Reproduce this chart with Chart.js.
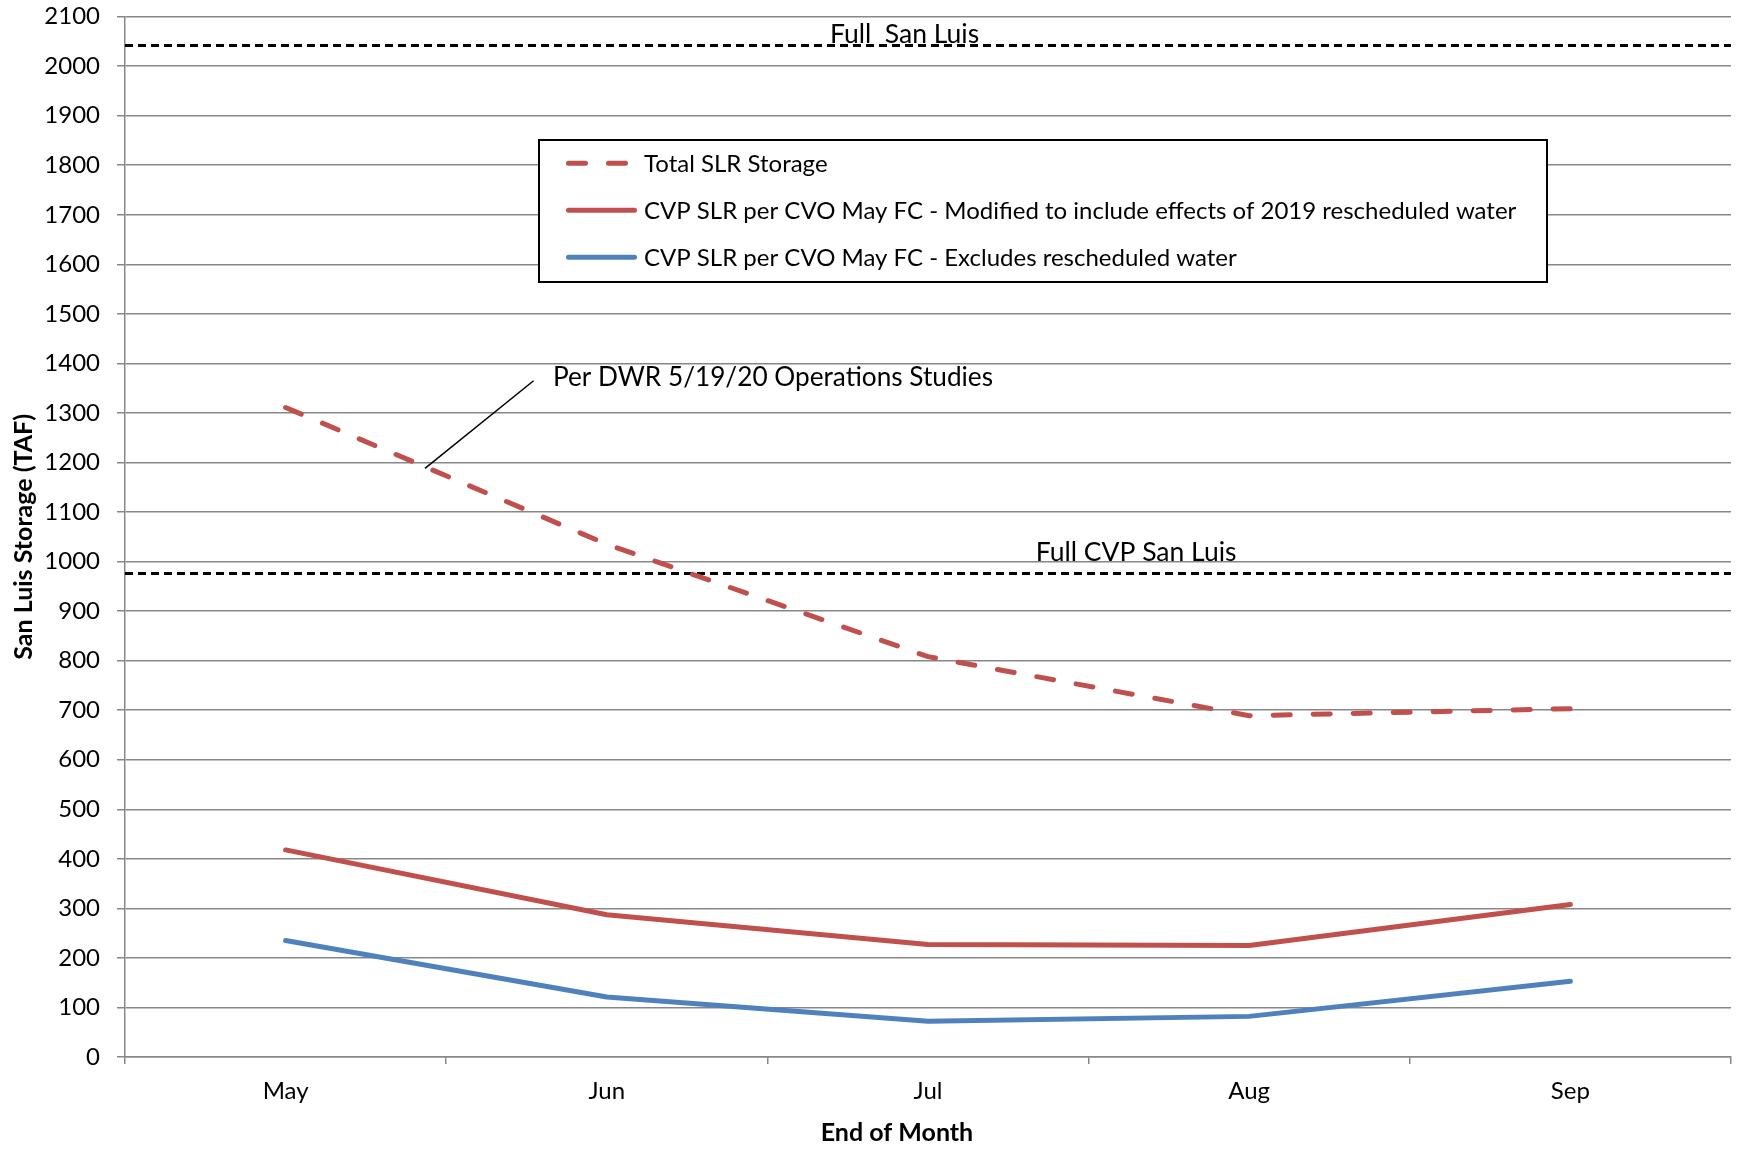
<!DOCTYPE html>
<html>
<head>
<meta charset="utf-8">
<script src="https://cdn.jsdelivr.net/npm/chart.js@4.4.0/dist/chart.umd.min.js"></script>
<style>
html,body{margin:0;padding:0;background:#ffffff;}
canvas{display:block;}
</style>
</head>
<body>
<canvas id="chart" width="1740" height="1149"></canvas>
<script>
// ---------- data ----------
const months = ['May', 'Jun', 'Jul', 'Aug', 'Sep'];
const totalSLRStorage = [1311, 1035, 808, 689, 703];
const cvpModified = [418, 287, 227, 225, 308];
const cvpExcludes = [235, 121, 72, 82, 153];
const seriesNames = [
  'Total SLR Storage',
  'CVP SLR per CVO May FC - Modified to include effects of 2019 rescheduled water',
  'CVP SLR per CVO May FC - Excludes rescheduled water'
];
const referenceValues = [2043, 977];
const referenceLabels = ['Full  San Luis', 'Full CVP San Luis'];
const annotationText = 'Per DWR 5/19/20 Operations Studies';
const yAxisTitle = 'San Luis Storage (TAF)';
const xAxisTitle = 'End of Month';
const yMin = 0, yMax = 2100, yStep = 100;

// ---------- styling ----------
const FONT = 'Lato, "Open Sans", sans-serif';
const RED = '#C0504D';
const BLUE = '#4F81BD';
const GRID = '#878787';

// placement of the annotation texts (category index fraction / axis value)
const refLabelPos = [{xIdx: 1.927, dy: 1.6}, {xIdx: 2.648, dy: 11.7}];
const callout = {textIdx: 0.8325, textVal: 1355, fromIdx: 0.772, fromVal: 1365, toIdx: 0.434, toVal: 1188};

const overlayPlugin = {
  id: 'overlay',
  beforeDatasetsDraw(chart) {
    const {ctx, chartArea, scales: {x, y}} = chart;
    ctx.save();
    ctx.strokeStyle = '#000';
    ctx.lineWidth = 3;
    ctx.setLineDash([8, 5]);
    ctx.lineCap = 'butt';
    referenceValues.forEach(v => {
      const py = Math.round(y.getPixelForValue(v)) + 0.5;
      ctx.beginPath();
      ctx.moveTo(chartArea.left, py);
      ctx.lineTo(chartArea.right, py);
      ctx.stroke();
    });
    ctx.setLineDash([]);
    ctx.fillStyle = '#000';
    ctx.font = '26.5px ' + FONT;
    ctx.textAlign = 'center';
    ctx.textBaseline = 'alphabetic';
    referenceLabels.forEach((t, i) => {
      const py = y.getPixelForValue(referenceValues[i]);
      ctx.fillText(t, x.getPixelForValue(refLabelPos[i].xIdx), py - refLabelPos[i].dy);
    });
    // callout
    ctx.lineWidth = 1.5;
    ctx.beginPath();
    ctx.moveTo(x.getPixelForValue(callout.fromIdx), y.getPixelForValue(callout.fromVal));
    ctx.lineTo(x.getPixelForValue(callout.toIdx), y.getPixelForValue(callout.toVal));
    ctx.stroke();
    ctx.font = '26.2px ' + FONT;
    ctx.textAlign = 'left';
    ctx.fillText(annotationText, x.getPixelForValue(callout.textIdx), y.getPixelForValue(callout.textVal));
    ctx.restore();
  },
  afterDraw(chart) {
    const {ctx} = chart;
    ctx.save();
    // x-axis title (centred on the whole chart, as in the source)
    ctx.fillStyle = '#000';
    ctx.font = 'bold 25px ' + FONT;
    ctx.textAlign = 'center';
    ctx.textBaseline = 'alphabetic';
    ctx.fillText(xAxisTitle, chart.width * 0.5155, 1141);

    // legend box
    const bx0 = 539, by0 = 140, bx1 = 1547, by1 = 282;
    ctx.fillStyle = '#fff';
    ctx.fillRect(bx0, by0, bx1 - bx0, by1 - by0);
    ctx.strokeStyle = '#000';
    ctx.lineWidth = 2;
    ctx.strokeRect(bx0, by0, bx1 - bx0, by1 - by0);
    chart.data.datasets.forEach((ds, i) => {
      const ry = 163.3 + i * 47;
      ctx.strokeStyle = ds.borderColor;
      ctx.lineWidth = ds.borderWidth;
      ctx.lineCap = 'round';
      ctx.setLineDash(ds.borderDash || []);
      ctx.beginPath();
      ctx.moveTo(568.5, ry);
      ctx.lineTo(634.5, ry);
      ctx.stroke();
      ctx.setLineDash([]);
      ctx.fillStyle = '#000';
      ctx.font = '24px ' + FONT;
      ctx.textAlign = 'left';
      ctx.textBaseline = 'middle';
      ctx.fillText(ds.label, 644, ry + 1);
    });
    ctx.restore();
  }
};

new Chart(document.getElementById('chart'), {
  type: 'line',
  data: {
    labels: months,
    datasets: [
      {label: seriesNames[0], data: totalSLRStorage, borderColor: RED, backgroundColor: RED,
       borderWidth: 5, borderDash: [17, 23], borderCapStyle: 'round', pointRadius: 0, tension: 0, fill: false},
      {label: seriesNames[1], data: cvpModified, borderColor: RED, backgroundColor: RED,
       borderWidth: 5, borderCapStyle: 'round', borderJoinStyle: 'round', pointRadius: 0, tension: 0, fill: false},
      {label: seriesNames[2], data: cvpExcludes, borderColor: BLUE, backgroundColor: BLUE,
       borderWidth: 5, borderCapStyle: 'round', borderJoinStyle: 'round', pointRadius: 0, tension: 0, fill: false}
    ]
  },
  options: {
    responsive: false,
    animation: false,
    devicePixelRatio: 1,
    layout: {padding: {top: 16.6, right: 9, bottom: 0, left: 0}},
    plugins: {legend: {display: false}, tooltip: {enabled: false}},
    scales: {
      x: {
        offset: true,
        grid: {display: true, drawOnChartArea: false, drawTicks: true, tickLength: 7, color: GRID, lineWidth: 1.5, offset: true},
        border: {display: true, color: GRID, width: 1.5},
        ticks: {color: '#000', font: {family: FONT, size: 24}, padding: 13, maxRotation: 0},
        title: {display: false, text: xAxisTitle},
        afterFit(scale) { scale.height = 92; scale.paddingLeft = 0; scale.paddingRight = 0; }
      },
      y: {
        min: yMin, max: yMax,
        grid: {color: GRID, lineWidth: 1.5, drawTicks: true, tickLength: 8},
        border: {display: true, color: GRID, width: 1.5},
        ticks: {stepSize: yStep, color: '#000', font: {family: FONT, size: 24}, padding: 17, format: {useGrouping: false}},
        title: {display: true, text: yAxisTitle, color: '#000', font: {family: FONT, size: 25, weight: 'bold'}, padding: {top: 9, bottom: 0}},
        afterFit(scale) { scale.width = 125; scale.paddingTop = 0; scale.paddingBottom = 0; }
      }
    }
  },
  plugins: [overlayPlugin]
});
</script>
</body>
</html>
